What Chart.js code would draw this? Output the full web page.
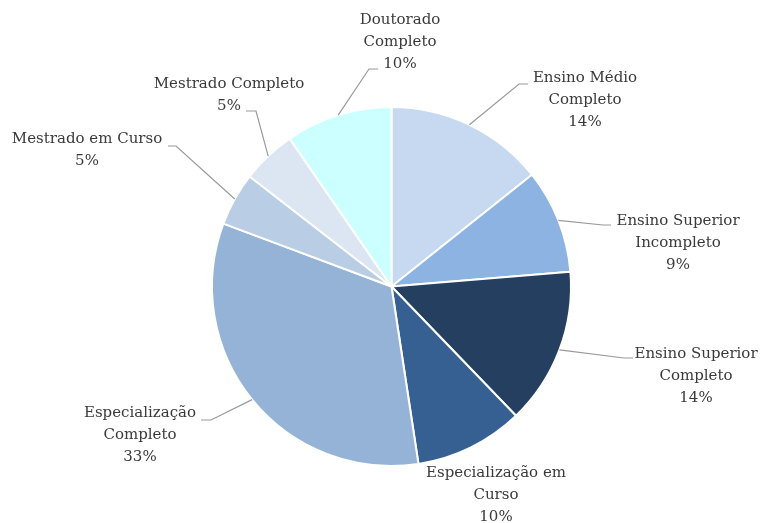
<!DOCTYPE html>
<html>
<head>
<meta charset="utf-8">
<script src="https://cdn.jsdelivr.net/npm/chart.js@4"></script>
<style>
  html, body { margin: 0; padding: 0; background: #fff; }
  #wrap { width: 761px; height: 523px; position: relative; }
</style>
</head>
<body>
<div id="wrap"><canvas id="myChart"></canvas></div>
<script>
// categories (each entry = lines of the label)
const categories = [
  ["Ensino Médio", "Completo"],
  ["Ensino Superior", "Incompleto"],
  ["Ensino Superior", "Completo"],
  ["Especialização em", "Curso"],
  ["Especialização", "Completo"],
  ["Mestrado em Curso"],
  ["Mestrado Completo"],
  ["Doutorado", "Completo"]
];
// share of respondents (%)
const shares = [14.3, 9.4, 14.1, 9.8, 33.1, 4.8, 4.9, 9.6];
const sliceColors = ["#c6d9f1", "#8db3e2", "#243f60", "#366092", "#95b3d7", "#b9cde5", "#dce6f2", "#ccffff"];

// where each label sits, and the bend of its leader line (null = no leader)
const labelSpots = [
  { x: 585, y: 78, bend: [519, 84], end: [528, 84] },
  { x: 678, y: 221, bend: [603, 225], end: [611, 225] },
  { x: 696, y: 354, bend: [624, 358], end: [633, 358] },
  { x: 496, y: 473, bend: null },
  { x: 140, y: 413, bend: [211, 420], end: [201, 420] },
  { x: 87, y: 139, bend: [176, 146], end: [168, 146] },
  { x: 229, y: 84, bend: [256, 111], end: [246, 111] },
  { x: 400, y: 20, bend: [369, 69], end: [378, 69] }
];

const total = shares.reduce((a, b) => a + b, 0);

const outsideLabels = {
  id: "outsideLabels",
  afterDatasetsDraw(chart) {
    const ctx = chart.ctx;
    const meta = chart.getDatasetMeta(0);
    ctx.save();
    meta.data.forEach((arc, i) => {
      const p = arc.getProps(["x", "y", "startAngle", "endAngle", "outerRadius"], true);
      const mid = (p.startAngle + p.endAngle) / 2;
      const ex = p.x + Math.cos(mid) * p.outerRadius;
      const ey = p.y + Math.sin(mid) * p.outerRadius;
      const spot = labelSpots[i];
      if (spot.bend) {
        ctx.strokeStyle = "#9a9a9a";
        ctx.lineWidth = 1.2;
        ctx.beginPath();
        ctx.moveTo(ex, ey);
        ctx.lineTo(spot.bend[0], spot.bend[1]);
        ctx.lineTo(spot.end[0], spot.end[1]);
        ctx.stroke();
      }
      const lines = categories[i].concat([Math.round(shares[i] / total * 100) + "%"]);
      ctx.fillStyle = "#3a3a3a";
      ctx.font = "15px 'DejaVu Serif'";
      ctx.textAlign = "center";
      ctx.textBaseline = "middle";
      lines.forEach((t, k) => ctx.fillText(t, spot.x, spot.y + k * 22));
    });
    ctx.restore();
  }
};

new Chart(document.getElementById("myChart"), {
  type: "pie",
  data: {
    labels: categories.map(c => c.join(" ")),
    datasets: [{
      data: shares,
      backgroundColor: sliceColors,
      borderColor: "#ffffff",
      borderWidth: 2
    }]
  },
  options: {
    responsive: true,
    maintainAspectRatio: false,
    animation: false,
    layout: { padding: { top: 105, bottom: 55, left: 211, right: 189 } },
    plugins: {
      legend: { display: false },
      tooltip: { enabled: false }
    }
  },
  plugins: [outsideLabels]
});
</script>
</body>
</html>
